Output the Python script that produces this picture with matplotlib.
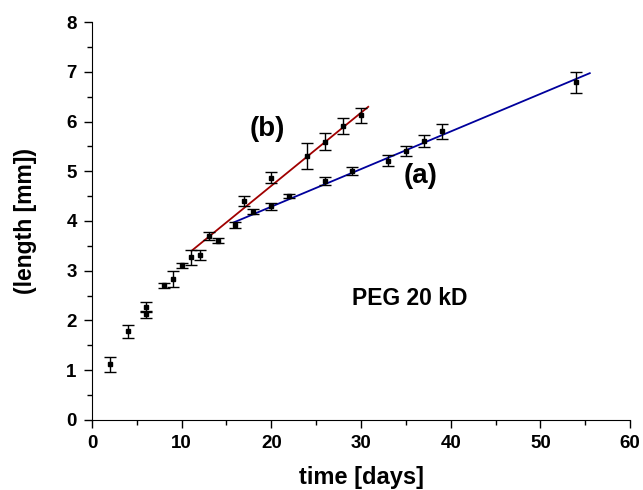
import numpy as np
import matplotlib.pyplot as plt

plt.rcParams['font.family'] = ['Liberation Sans', 'DejaVu Sans']
plt.rcParams['font.weight'] = 'bold'

# early growth, common to both
days_0 = [2, 4, 6, 6, 8, 9, 10, 11]
len_0 = [1.12, 1.78, 2.28, 2.12, 2.71, 2.84, 3.11, 3.27]
err_0 = [0.15, 0.13, 0.10, 0.08, 0.05, 0.16, 0.05, 0.15]

# branch (a)
days_a = [12, 14, 16, 18, 20, 22, 26, 29, 33, 35, 37, 39, 54]
len_a = [3.31, 3.60, 3.91, 4.19, 4.30, 4.50, 4.80, 5.00, 5.21, 5.41, 5.60, 5.80, 6.79]
err_a = [0.10, 0.05, 0.06, 0.05, 0.07, 0.04, 0.08, 0.08, 0.11, 0.10, 0.12, 0.15, 0.21]

# branch (b)
days_b = [13, 17, 20, 24, 26, 28, 30]
len_b = [3.70, 4.40, 4.87, 5.31, 5.59, 5.91, 6.13]
err_b = [0.08, 0.10, 0.11, 0.26, 0.17, 0.17, 0.15]

# linear fits: slope, intercept, x range
fit_a = (0.0756, 2.776, 15.8, 55.5)
fit_b = (0.147, 1.768, 11.1, 30.8)

fig = plt.figure(figsize=(6.43, 4.9), dpi=100)
ax = fig.add_axes([0.143, 0.143, 0.837, 0.812])

for d, l, e in [(days_0, len_0, err_0), (days_a, len_a, err_a), (days_b, len_b, err_b)]:
    ax.errorbar(d, l, yerr=e, fmt='s', color='black', ms=2.5, capsize=4,
                elinewidth=1, capthick=1, zorder=3)

for (k, b, x0, x1), c in [(fit_a, '#00009c'), (fit_b, '#a00000')]:
    xs = np.array([x0, x1])
    ax.plot(xs, np.polyval([k, b], xs), color=c, lw=1.3, zorder=2)

ax.text(19.5, 5.85, '(b)', fontsize=20, fontweight='bold', ha='center', va='center')
ax.text(36.6, 4.9, '(a)', fontsize=20, fontweight='bold', ha='center', va='center')
ax.text(35.45, 2.45, 'PEG 20 kD', fontsize=16.5, fontweight='bold', ha='center', va='center')

ax.set_xlim(0, 60)
ax.set_ylim(0, 8)
ax.set_xticks(np.arange(0, 61, 10))
ax.set_xticks(np.arange(0, 61, 5), minor=True)
ax.set_yticks(np.arange(0, 9, 1))
ax.set_yticks(np.arange(0, 8.1, 0.5), minor=True)
ax.spines['top'].set_visible(False)
ax.spines['right'].set_visible(False)
ax.tick_params(direction='out', length=6, width=1, labelsize=13.5, pad=5)
ax.tick_params(which='minor', direction='out', length=3.5, width=1)
for lab in ax.get_xticklabels() + ax.get_yticklabels():
    lab.set_fontweight('bold')
ax.set_xlabel('time [days]', fontsize=17, fontweight='bold', labelpad=10)
ax.set_ylabel('(length [mm])', fontsize=16.5, fontweight='bold', labelpad=21)

fig.savefig('out.png', dpi=100)
